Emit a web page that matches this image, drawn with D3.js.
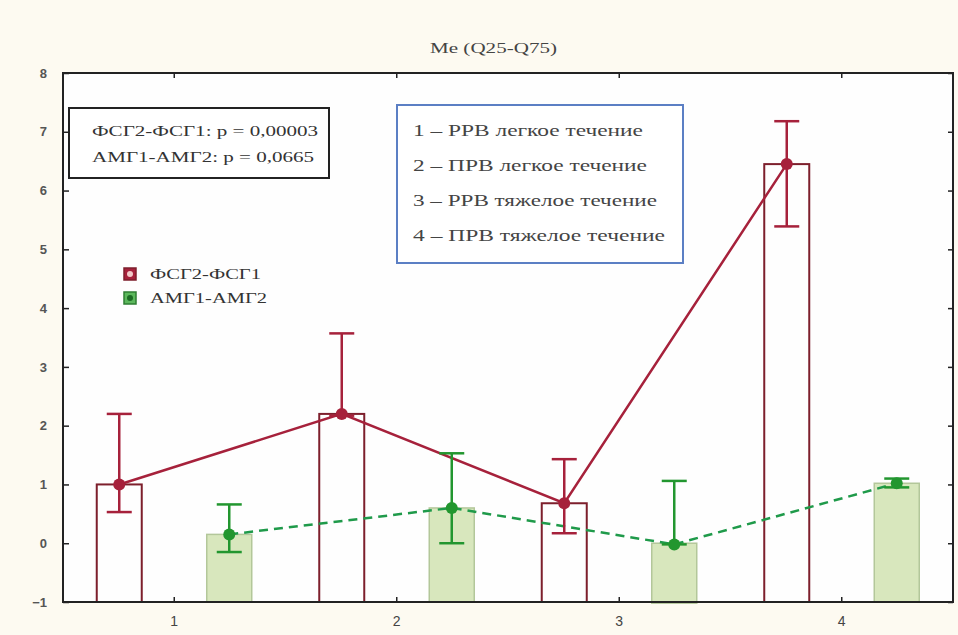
<!DOCTYPE html>
<html><head><meta charset="utf-8">
<script src="https://cdnjs.cloudflare.com/ajax/libs/d3/7.8.5/d3.min.js"></script>
<style>body{margin:0;background:#fdfaf1;} svg{display:block;}</style>
</head><body>
<svg id="chart" width="958" height="635"></svg>
<script>
const categories = ["1", "2", "3", "4"];
const fsgMedian = [1.0, 2.2, 0.68, 6.45];
const fsgQ25 = [0.53, 2.17, 0.17, 5.39];
const fsgQ75 = [2.2, 3.57, 1.43, 7.18];
const amgMedian = [0.15, 0.6, -0.02, 1.02];
const amgQ25 = [-0.15, 0.0, -0.02, 0.95];
const amgQ75 = [0.66, 1.53, 1.06, 1.1];
const yTicks = [-1, 0, 1, 2, 3, 4, 5, 6, 7, 8];
const seriesNames = ["ФСГ2-ФСГ1", "АМГ1-АМГ2"];
const pTexts = ["ФСГ2-ФСГ1: p = 0,00003", "АМГ1-АМГ2: p = 0,0665"];
const groupTexts = ["1 – РРВ легкое течение", "2 – ПРВ легкое течение", "3 – РРВ тяжелое течение", "4 – ПРВ тяжелое течение"];
const title = "Me (Q25-Q75)";

const svg = d3.select("#chart");
const L = 63, R = 953, T = 73, B = 602;
const x = d3.scaleBand().domain(categories).range([L, R]);
const y = d3.scaleLinear().domain([-1, 8]).range([B, T]);
const off = 55, bw = 45, cap = 12.5;
const red = "#a6213b", redDark = "#7d1f2c", green = "#22962f", gfill = "#d8e7bd", gstroke = "#b3c79a";
const serif = "'Liberation Serif', 'DejaVu Serif', serif";
const sans = "'Liberation Sans', Arial, sans-serif";

svg.append("rect").attr("x", L).attr("y", T).attr("width", R - L).attr("height", B - T).attr("fill", "#fefefe");

svg.append("text").attr("x", 430).attr("y", 53)
  .attr("font-family", serif).attr("font-size", 14).attr("fill", "#444")
  .attr("textLength", 127).attr("lengthAdjust", "spacingAndGlyphs").text(title);

const cx = (c, s) => x(c) + x.bandwidth() / 2 + s * off;

// green bars
svg.selectAll(".gbar").data(categories).join("rect")
  .attr("x", c => cx(c, 1) - bw / 2).attr("width", bw)
  .attr("y", (c, i) => Math.min(y(amgMedian[i]), y(0)))
  .attr("height", (c, i) => Math.abs(y(0) - y(amgMedian[i])) + (y(-1) - y(0)))
  .attr("fill", gfill).attr("stroke", gstroke).attr("stroke-width", 1.5);
// red bars
svg.selectAll(".rbar").data(categories).join("rect")
  .attr("x", c => cx(c, -1) - bw / 2).attr("width", bw)
  .attr("y", (c, i) => y(fsgMedian[i]))
  .attr("height", (c, i) => y(-1) - y(fsgMedian[i]))
  .attr("fill", "none").attr("stroke", redDark).attr("stroke-width", 2);

// lines
const redLine = d3.line().x((d, i) => cx(categories[i], -1)).y(d => y(d));
const greenLine = d3.line().x((d, i) => cx(categories[i], 1)).y(d => y(d));
svg.append("path").attr("d", greenLine(amgMedian)).attr("fill", "none")
  .attr("stroke", "#1f9a4a").attr("stroke-width", 2.5).attr("stroke-dasharray", "9,6");
svg.append("path").attr("d", redLine(fsgMedian)).attr("fill", "none")
  .attr("stroke", red).attr("stroke-width", 2.5);

function errBars(med, lo, hi, s, col) {
  const g = svg.append("g").attr("stroke", col).attr("stroke-width", 2.5);
  categories.forEach((c, i) => {
    const xc = cx(c, s);
    g.append("line").attr("x1", xc).attr("x2", xc).attr("y1", y(lo[i])).attr("y2", y(hi[i]));
    g.append("line").attr("x1", xc - cap).attr("x2", xc + cap).attr("y1", y(hi[i])).attr("y2", y(hi[i]));
    g.append("line").attr("x1", xc - cap).attr("x2", xc + cap).attr("y1", y(lo[i])).attr("y2", y(lo[i]));
  });
  svg.selectAll(null).data(med).join("circle")
    .attr("cx", (d, i) => cx(categories[i], s)).attr("cy", d => y(d)).attr("r", 6).attr("fill", col);
}
errBars(fsgMedian, fsgQ25, fsgQ75, -1, red);
errBars(amgMedian, amgQ25, amgQ75, 1, green);

// frame
svg.append("rect").attr("x", L).attr("y", T).attr("width", R - L).attr("height", B - T)
  .attr("fill", "none").attr("stroke", "#222").attr("stroke-width", 2);

// axes
const yAxis = d3.axisLeft(y).tickValues(yTicks).tickSize(-6).tickPadding(16).tickFormat(d3.format("d"));
const ga = svg.append("g").attr("transform", `translate(${L},0)`).call(yAxis);
ga.select(".domain").remove();
ga.selectAll("line").attr("stroke", "#222").attr("stroke-width", 1.5);
ga.selectAll("text").attr("font-family", sans).attr("font-size", 13).attr("font-weight", "bold").attr("fill", "#555");
const yRight = d3.axisRight(y).tickValues(yTicks).tickSize(-5).tickFormat("");
const gr = svg.append("g").attr("transform", `translate(${R},0)`).call(yRight);
gr.select(".domain").remove();
gr.selectAll("line").attr("stroke", "#222").attr("stroke-width", 1.5);

const xAxis = d3.axisBottom(x).tickSize(-5).tickPadding(14);
const gx = svg.append("g").attr("transform", `translate(0,${B})`).call(xAxis);
gx.select(".domain").remove();
gx.selectAll("line").attr("stroke", "#222").attr("stroke-width", 1.5);
gx.selectAll("text").attr("font-family", sans).attr("font-size", 14).attr("fill", "#444");
const xTop = d3.axisTop(x).tickSize(-5).tickFormat("");
const gt = svg.append("g").attr("transform", `translate(0,${T})`).call(xTop);
gt.select(".domain").remove();
gt.selectAll("line").attr("stroke", "#222").attr("stroke-width", 1.5);

// p-value box
svg.append("rect").attr("x", 69).attr("y", 108).attr("width", 260).attr("height", 70)
  .attr("fill", "#fff").attr("stroke", "#222").attr("stroke-width", 2);
const pLens = [226, 222];
pTexts.forEach((t, i) => svg.append("text").attr("x", 92).attr("y", 136 + i * 26)
  .attr("font-family", serif).attr("font-size", 15).attr("fill", "#333")
  .attr("textLength", pLens[i]).attr("lengthAdjust", "spacingAndGlyphs").text(t));

// group legend
svg.append("rect").attr("x", 397).attr("y", 105).attr("width", 286).attr("height", 158)
  .attr("fill", "#fff").attr("stroke", "#5b7fc4").attr("stroke-width", 2);
const gLens = [230, 234, 244, 252];
groupTexts.forEach((t, i) => svg.append("text").attr("x", 413).attr("y", 136 + i * 35)
  .attr("font-family", serif).attr("font-size", 17).attr("fill", "#444")
  .attr("textLength", gLens[i]).attr("lengthAdjust", "spacingAndGlyphs").text(t));

// series legend
const legCols = [[red, redDark, "#f2c9c9"], ["#5cb85c", "#2e7d32", "#1c6b24"]];
const sLens = [111, 117];
seriesNames.forEach((n, i) => {
  const yy = 268 + i * 24;
  svg.append("rect").attr("x", 124).attr("y", yy).attr("width", 12).attr("height", 12)
    .attr("fill", legCols[i][0]).attr("stroke", legCols[i][1]).attr("stroke-width", 1.5);
  svg.append("circle").attr("cx", 130).attr("cy", yy + 6).attr("r", 3).attr("fill", legCols[i][2]);
  svg.append("text").attr("x", 150).attr("y", yy + 11)
    .attr("font-family", serif).attr("font-size", 14).attr("fill", "#333")
    .attr("textLength", sLens[i]).attr("lengthAdjust", "spacingAndGlyphs").text(n);
});
</script>
</body></html>
